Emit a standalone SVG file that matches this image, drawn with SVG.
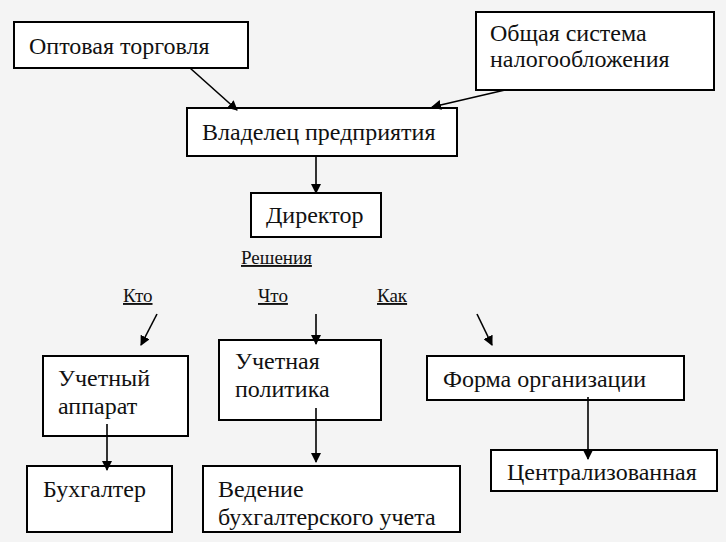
<svg xmlns="http://www.w3.org/2000/svg" width="726" height="542" viewBox="0 0 726 542" font-family="Liberation Serif, DejaVu Serif, serif">
<style>
rect{fill:#fff;stroke:#000;stroke-width:2}
text{font-family:'Liberation Serif','DejaVu Serif',serif;font-size:24px;fill:#111}
.u{font-size:19px;text-decoration:underline}
line{stroke:#000;stroke-width:1.6;marker-end:url(#a)}
</style>
<defs><marker id="a" markerWidth="10" markerHeight="10" refX="9" refY="5" orient="auto" markerUnits="userSpaceOnUse"><path d="M0,0 L10,5 L0,10 Z" fill="#000"/></marker></defs>
<rect x="0" y="0" width="726" height="542" style="fill:#f4f4f4;stroke:none"/>
<g id="n1"><rect x="14" y="22" width="234" height="46"/><text x="29" y="54">Оптовая торговля</text></g>
<g id="n2"><rect x="476" y="12" width="238" height="78"/><text x="490" y="41">Общая система</text><text x="490" y="67">налогообложения</text></g>
<g id="n3"><rect x="187" y="108" width="270" height="48"/><text x="202" y="140">Владелец предприятия</text></g>
<g id="n4"><rect x="251" y="193" width="130" height="44"/><text x="266" y="223">Директор</text></g>
<g id="labels"><text class="u" x="241" y="264">Решения</text><text class="u" x="123" y="302">Кто</text><text class="u" x="258" y="302">Что</text><text class="u" x="377" y="302">Как</text></g>
<g id="n5"><rect x="43" y="356" width="145" height="80"/><text x="58" y="386">Учетный</text><text x="58" y="414">аппарат</text></g>
<g id="n6"><rect x="219" y="340" width="162" height="80"/><text x="235" y="369">Учетная</text><text x="235" y="397">политика</text></g>
<g id="n7"><rect x="427" y="356" width="257" height="44"/><text x="443" y="387">Форма организации</text></g>
<g id="n8"><rect x="27" y="466" width="145" height="66"/><text x="43" y="497">Бухгалтер</text></g>
<g id="n9"><rect x="203" y="466" width="257" height="66"/><text x="218" y="497">Ведение</text><text x="218" y="525">бухгалтерского учета</text></g>
<g id="n10"><rect x="491" y="450" width="226" height="41"/><text x="507" y="480">Централизованная</text></g>
<g id="edges">
<line x1="190" y1="68" x2="237" y2="110"/>
<line x1="505" y1="90" x2="432" y2="107"/>
<line x1="316" y1="156" x2="316" y2="193"/>
<line x1="157" y1="314" x2="141" y2="345"/>
<line x1="316" y1="314" x2="316" y2="344"/>
<line x1="477" y1="314" x2="492" y2="345"/>
<line x1="107" y1="424" x2="107" y2="470"/>
<line x1="316" y1="408" x2="316" y2="462"/>
<line x1="588" y1="397" x2="588" y2="459"/>
</g>
</svg>
